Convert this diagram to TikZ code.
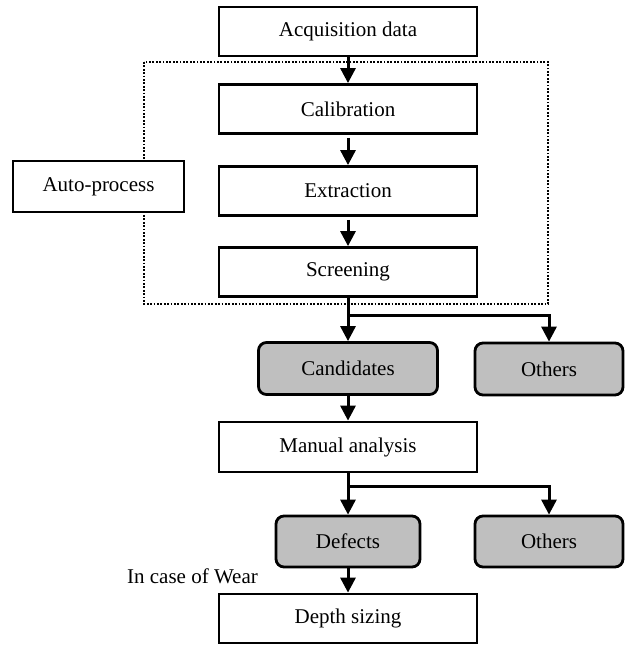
\documentclass[tikz,border=0pt]{standalone}
\usepackage{fontspec}
\setmainfont{Liberation Serif}
\usetikzlibrary{arrows.meta}

\begin{document}
\begin{tikzpicture}[%
        x = 1pt,
        y = -1pt,
        every node/.style = {%
            font = \fontsize{21}{25}\selectfont
        },
        procbox/.style = {%
            draw = black,
            fill = white,
            line width = 2.8pt,
            minimum width = 258,
            minimum height = 49,
            inner sep = 0pt
        },
        resultbox/.style = {%
            draw = black,
            fill = black!25,
            line width = 2.8pt,
            rounded corners = 8pt,
            minimum height = 52,
            inner sep = 0pt
        },
        flow/.style = {%
            line width = 3pt,
            -{Triangle[width = 15pt, length = 15pt]}
        },
        > = latex
    ]

        \useasboundingbox (0, 0) rectangle (627, 645);

        % Dotted frame round the automatic steps.
        \draw[line width = 1.8pt, dash pattern = on 1.8pt off 1.6pt]
            (144, 62) rectangle (548, 304);

        % The automatic processing chain.
        \node[procbox] (acq) at (348, 31.5) {Acquisition data};
        \node[procbox] (calib) at (348, 109) {Calibration};
        \node[procbox] (extr) at (348, 191) {Extraction};
        \node[procbox] (screen) at (348, 272) {Screening};

        % Label of the frame, covering its left side.
        \node[procbox, minimum width = 171, minimum height = 51]
            (auto) at (98.5, 186.5) {Auto-process};

        % Results of the screening.
        \node[resultbox, minimum width = 179] (cand) at (348, 368.5) {Candidates};
        \node[resultbox, minimum width = 148] (oth1) at (549, 369) {Others};

        % Manual analysis and its results.
        \node[procbox, minimum height = 50] (manual) at (348, 447) {Manual analysis};
        \node[resultbox, minimum width = 144, minimum height = 51]
            (defects) at (348, 541.5) {Defects};
        \node[resultbox, minimum width = 148, minimum height = 51]
            (oth2) at (549, 541.5) {Others};
        \node[procbox] (depth) at (348, 618.5) {Depth sizing};
        \node[anchor = base east, inner sep = 0pt] (wear) at (258, 583) {In case of Wear};

        % Branch points below the screening and the manual analysis.
        \coordinate (split1) at (348, 315);
        \coordinate (split2) at (348, 486);

        % Arrows of the flow.
        \draw[flow] (acq) to (calib);
        \draw[flow] (calib.south) ++(0, 3) to (extr);
        \draw[flow] (extr.south) ++(0, 3) to (screen);
        \draw[flow] (screen) to (cand);
        \draw[flow] (split1) -| (oth1.north);
        \draw[flow] (cand) to (manual);
        \draw[flow] (manual) to (defects);
        \draw[flow] (split2) -| (oth2.north);
        \draw[flow] (defects) to (depth);
    \end{tikzpicture}
\end{document}
